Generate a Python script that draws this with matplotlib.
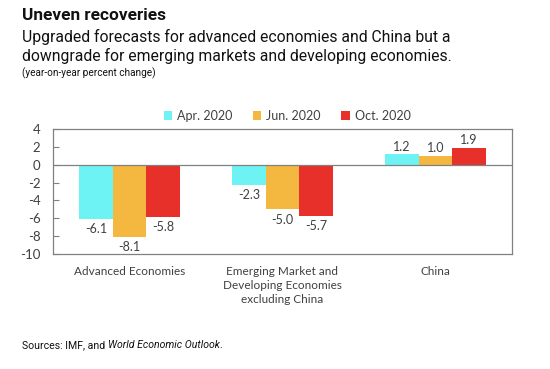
import numpy as np
import matplotlib
matplotlib.use('Agg')
import matplotlib.pyplot as plt

plt.rcParams['axes.unicode_minus'] = False

# data
categories = ['Advanced Economies', 'Emerging Market and\nDeveloping Economies\nexcluding China', 'China']
series_names = ['Apr. 2020', 'Jun. 2020', 'Oct. 2020']
apr_2020 = [-6.1, -2.3, 1.2]
jun_2020 = [-8.1, -5.0, 1.0]
oct_2020 = [-5.8, -5.7, 1.9]
colors = ['#6EF3F5', '#F4B73F', '#E8302A']

fig = plt.figure(figsize=(5.5, 3.69), dpi=100)
ax = fig.add_axes([53 / 550, 1 - 254 / 369, 459 / 550, 125 / 369])

x = np.arange(len(categories))
w = 0.22
txt = '#404040'
for i, (vals, name) in enumerate(zip([apr_2020, jun_2020, oct_2020], series_names)):
    pos = x + (i - 1) * w
    ax.bar(pos, vals, width=w, color=colors[i], label=name, zorder=2)
    for p, v in zip(pos, vals):
        if v < 0:
            ax.annotate('%.1f' % v, (p, v), xytext=(0, -3), textcoords='offset points',
                        ha='center', va='top', fontsize=9, color=txt, family='Lato')
        else:
            ax.annotate('%.1f' % v, (p, v), xytext=(0, 1), textcoords='offset points',
                        ha='center', va='bottom', fontsize=9, color=txt, family='Lato')

ax.axhline(0, color='#808080', lw=0.9, zorder=3)
ax.set_xlim(-0.5, 2.5)
ax.set_ylim(-10, 4)
ax.set_yticks(range(-10, 5, 2))
ax.set_xticks(x)
ax.set_xticklabels(categories, fontsize=8.5, color=txt, family='Lato', linespacing=1.35)
ax.tick_params(axis='x', length=0, pad=8.5)
ax.tick_params(axis='y', direction='in', length=4, color='#808080', labelsize=9.5,
               labelcolor=txt, pad=9)
for lab in ax.get_yticklabels():
    lab.set_family('Lato')
for s in ax.spines.values():
    s.set_color('#808080')
    s.set_linewidth(0.9)

fig.legend(loc='center', bbox_to_anchor=(287 / 550, 1 - 116 / 369), ncol=3, frameon=False,
           prop={'family': 'Lato', 'size': 9}, handlelength=0.7, handleheight=0.7,
           handletextpad=0.4, columnspacing=1.6, labelcolor=txt)

# headline text
fig.text(22 / 550, 1 - 16 / 369, 'Uneven recoveries', fontsize=12.4, fontweight='bold',
         family='Roboto', va='center', color='#111111')
fig.text(22 / 550, 1 - 37 / 369, 'Upgraded forecasts for advanced economies and China but a',
         fontsize=11.3, family='Roboto', va='center', color='#111111')
fig.text(22 / 550, 1 - 56 / 369, 'downgrade for emerging markets and developing economies.',
         fontsize=11.3, family='Roboto', va='center', color='#111111')
fig.text(22 / 550, 1 - 73 / 369, '(year-on-year percent change)', fontsize=7.2,
         family='Roboto', va='center', color='#111111')
src = fig.text(22 / 550, 1 - 348 / 369, 'Sources: IMF, and ', fontsize=7.6,
               family='Roboto', va='baseline', color='#111111')
src2 = fig.text(0, 0, 'World Economic Outlook', fontsize=7.6, style='italic',
                family='Roboto', va='baseline', color='#111111')
fig.canvas.draw()
r = fig.canvas.get_renderer()
bb = src.get_window_extent(r)
src2.set_position((bb.x1 / fig.bbox.width, 1 - 348 / 369))
bb2 = src2.get_window_extent(r)
fig.text(bb2.x1 / fig.bbox.width, 1 - 348 / 369, '.', fontsize=7.6,
         family='Roboto', va='baseline', color='#111111')

fig.savefig('out.png', dpi=100)
